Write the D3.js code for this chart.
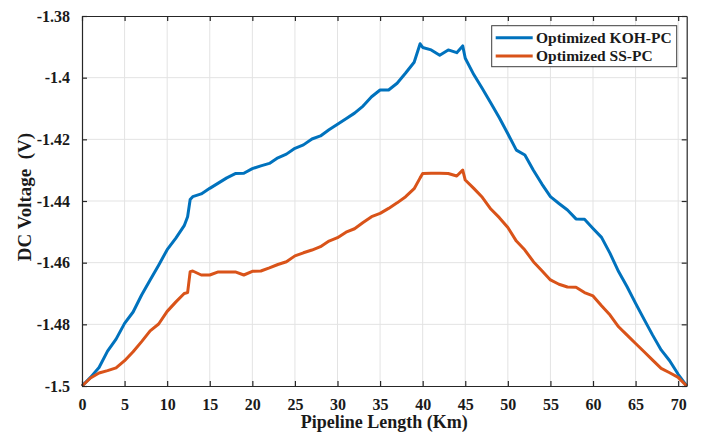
<!DOCTYPE html>
<html>
<head>
<meta charset="utf-8">
<script src="https://cdn.jsdelivr.net/npm/d3@7"></script>
<style>
  html, body { margin: 0; padding: 0; background: #fff; }
  svg { display: block; font-family: "Liberation Serif", "Times New Roman", serif; font-weight: bold; }
</style>
</head>
<body>
<svg id="chart" width="701" height="432"></svg>
<script>
// Distance along the pipeline (km)
const distanceKm = [0,1,2,3,4,5,6,7,8,9,10,11,12,12.4,12.7,13,14,15,16,17,18,19,20,21,22,23,24,25,26,27,28,29,30,31,32,33,34,35,36,37,38,39,39.7,40,41,42,43,44,44.7,45,46,47,48,49,50,51,52,53,54,55,56,57,58,59,60,61,62,63,64,65,66,67,68,69,70,71];

// DC voltage along the pipeline (V)
const kohPC = [-1.5,-1.4972,-1.4940,-1.4887,-1.4848,-1.4797,-1.4760,-1.4705,-1.4656,-1.4608,-1.4558,-1.4521,-1.4480,-1.4451,-1.4395,-1.4386,-1.4377,-1.4359,-1.4342,-1.4325,-1.4311,-1.4310,-1.4295,-1.4286,-1.4278,-1.4260,-1.4248,-1.4229,-1.4218,-1.4199,-1.4189,-1.4169,-1.4151,-1.4133,-1.4115,-1.4092,-1.4062,-1.4040,-1.4040,-1.4018,-1.3985,-1.3950,-1.3890,-1.3902,-1.3910,-1.3927,-1.3910,-1.3919,-1.3897,-1.3937,-1.3990,-1.4035,-1.4082,-1.4130,-1.4182,-1.4235,-1.4251,-1.4300,-1.4345,-1.4386,-1.4408,-1.4429,-1.4458,-1.4459,-1.4489,-1.4518,-1.4570,-1.4629,-1.4678,-1.4732,-1.4784,-1.4835,-1.4883,-1.4918,-1.4962,-1.5];
const ssPC = [-1.5,-1.4974,-1.4958,-1.4950,-1.4941,-1.4918,-1.4889,-1.4856,-1.4821,-1.4799,-1.4758,-1.4728,-1.4700,-1.4697,-1.4629,-1.4627,-1.4640,-1.4640,-1.4630,-1.4630,-1.4630,-1.4640,-1.4628,-1.4627,-1.4617,-1.4606,-1.4597,-1.4578,-1.4568,-1.4559,-1.4548,-1.4530,-1.4519,-1.4501,-1.4490,-1.4470,-1.4451,-1.4440,-1.4424,-1.4406,-1.4386,-1.4360,-1.4325,-1.4311,-1.4310,-1.4310,-1.4311,-1.4319,-1.4300,-1.4332,-1.4359,-1.4388,-1.4426,-1.4454,-1.4486,-1.4530,-1.4559,-1.4597,-1.4626,-1.4656,-1.4670,-1.4679,-1.4680,-1.4697,-1.4708,-1.4740,-1.4770,-1.4808,-1.4835,-1.4862,-1.4889,-1.4916,-1.4943,-1.4957,-1.4972,-1.5];

const seriesNames = ["Optimized KOH-PC", "Optimized SS-PC"];
const seriesColors = ["#0072BD", "#D95319"];

const xTicks = [0,5,10,15,20,25,30,35,40,45,50,55,60,65,70];
const yTicks = [-1.5,-1.48,-1.46,-1.44,-1.42,-1.4,-1.38];

const xLabel = "Pipeline Length (Km)";
const yLabel = "DC Voltage  (V)";

// Plot box
const plotL = 82, plotR = 686.7, plotT = 16, plotB = 386;
const svg = d3.select("#chart");

const x = d3.scaleLinear().domain([0, 71]).range([plotL, plotR]);
const y = d3.scaleLinear().domain([-1.5, -1.38]).range([plotB, plotT]);

const axisColor = "#262626";
const gridColor = "#e3e3e3";

// Grid
const grid = svg.append("g");
grid.selectAll("line.gx").data(xTicks.filter(d => d > 0)).join("line")
  .attr("class", "gx")
  .attr("x1", d => x(d)).attr("x2", d => x(d))
  .attr("y1", plotT).attr("y2", plotB)
  .attr("stroke", gridColor).attr("stroke-width", 1);
grid.selectAll("line.gy").data(yTicks.filter(d => d > -1.5 && d < -1.38)).join("line")
  .attr("class", "gy")
  .attr("x1", plotL).attr("x2", plotR)
  .attr("y1", d => y(d)).attr("y2", d => y(d))
  .attr("stroke", gridColor).attr("stroke-width", 1);

// Lines
const line = d3.line().x((d, i) => x(distanceKm[i])).y(d => y(d));
[kohPC, ssPC].forEach((vals, k) => {
  svg.append("path")
    .datum(vals)
    .attr("d", line)
    .attr("fill", "none")
    .attr("stroke", seriesColors[k])
    .attr("stroke-width", 3)
    .attr("stroke-linejoin", "round");
});

// Axes (ticks pointing inward, on all four sides)
const tickLen = 5;
const fmtY = d => String(+d.toFixed(2));

const xAxisBottom = d3.axisBottom(x).tickValues(xTicks).tickSize(-tickLen).tickSizeOuter(0).tickPadding(13).tickFormat(d3.format("d"));
const xAxisTop = d3.axisTop(x).tickValues(xTicks).tickSize(-tickLen).tickSizeOuter(0).tickFormat("");
const yAxisLeft = d3.axisLeft(y).tickValues(yTicks).tickSize(-tickLen).tickSizeOuter(0).tickPadding(12).tickFormat(fmtY);
const yAxisRight = d3.axisRight(y).tickValues(yTicks).tickSize(-tickLen).tickSizeOuter(0).tickFormat("");

function styleAxis(g) {
  g.select(".domain").attr("stroke", axisColor).attr("stroke-width", 1.2);
  g.selectAll(".tick line").attr("stroke", axisColor).attr("stroke-width", 1.2);
  g.selectAll(".tick text")
    .attr("fill", "#1a1a1a")
    .style("font-family", "'Liberation Serif', 'Times New Roman', serif")
    .style("font-weight", "bold")
    .style("font-size", "16px");
}

svg.append("g").attr("transform", `translate(0,${plotB})`).call(xAxisBottom).call(styleAxis);
svg.append("g").attr("transform", `translate(0,${plotT})`).call(xAxisTop).call(styleAxis);
svg.append("g").attr("transform", `translate(${plotL},0)`).call(yAxisLeft).call(styleAxis);
svg.append("g").attr("transform", `translate(${plotR},0)`).call(yAxisRight).call(styleAxis);

// Axis titles
svg.append("text")
  .attr("x", (plotL + plotR) / 2).attr("y", 428)
  .attr("text-anchor", "middle")
  .attr("fill", "#1a1a1a")
  .style("font-size", "18px")
  .text(xLabel);

svg.append("text")
  .attr("transform", `translate(31,197) rotate(-90)`)
  .attr("text-anchor", "middle")
  .attr("fill", "#1a1a1a")
  .style("font-size", "19px")
  .style("white-space", "pre")
  .text(yLabel);

// Legend
const legend = svg.append("g");
legend.append("rect")
  .attr("x", 491.7).attr("y", 25.7).attr("width", 185).attr("height", 41)
  .attr("fill", "#fff").attr("stroke", "#3c3c3c").attr("stroke-width", 1);
seriesNames.forEach((name, k) => {
  const cy = 37.7 + k * 18.4;
  legend.append("line")
    .attr("x1", 495.7).attr("x2", 532.7).attr("y1", cy).attr("y2", cy)
    .attr("stroke", seriesColors[k]).attr("stroke-width", 3);
  legend.append("text")
    .attr("x", 536).attr("y", cy + 5)
    .attr("fill", "#1a1a1a")
    .style("font-size", "15.5px")
    .text(name);
});
</script>
</body>
</html>
